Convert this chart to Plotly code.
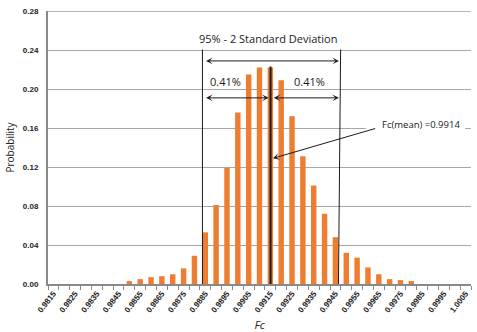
import plotly.graph_objects as go

# Fc bins (0.0005 wide) and the probability of each bin
fc_bins = [
    "0.9815", "0.9820", "0.9825", "0.9830", "0.9835", "0.9840", "0.9845", "0.9850",
    "0.9855", "0.9860", "0.9865", "0.9870", "0.9875", "0.9880", "0.9885", "0.9890",
    "0.9895", "0.9900", "0.9905", "0.9910", "0.9915", "0.9920", "0.9925", "0.9930",
    "0.9935", "0.9940", "0.9945", "0.9950", "0.9955", "0.9960", "0.9965", "0.9970",
    "0.9975", "0.9980", "0.9985", "0.9990", "0.9995", "1.0000", "1.0005",
]
probability = [
    0.0, 0.0, 0.0, 0.0, 0.0, 0.0, 0.0, 0.003,
    0.005, 0.007, 0.008, 0.010, 0.016, 0.029, 0.053, 0.081,
    0.119, 0.176, 0.215, 0.222, 0.222, 0.209, 0.172, 0.131,
    0.101, 0.072, 0.048, 0.032, 0.027, 0.017, 0.010, 0.005,
    0.004, 0.003, 0.0, 0.0, 0.0, 0.0, 0.0,
]
tick_labels = [
    "0.9815", "0.9825", "0.9835", "0.9845", "0.9855", "0.9865", "0.9875",
    "0.9885", "0.9895", "0.9905", "0.9915", "0.9925", "0.9935", "0.9945",
    "0.9955", "0.9965", "0.9975", "0.9985", "0.9995", "1.0005",
]

# Annotation positions (Fc, probability)
sd_low, sd_high = 0.98837, 0.99470
mean_line = 0.99151
span_top = 0.2405
mean_top = 0.2230
arrow_row1 = 0.2288
arrow_row2 = 0.1909

x_vals = [float(v) for v in fc_bins]
tick_vals = [float(v) for v in tick_labels]

BLACK = "#1a1a1a"
AXIS = "#8a8a8a"
GRID = "#a6a6a6"
FONT = "Open Sans"
TICK_FONT = "Liberation Sans"

fig = go.Figure(
    go.Bar(
        x=x_vals,
        y=probability,
        marker=dict(color="#ED7D31", line=dict(width=0)),
        hoverinfo="skip",
    )
)

fig.update_layout(
    width=477,
    height=332,
    margin=dict(l=48, r=6, t=11, b=48),
    paper_bgcolor="white",
    plot_bgcolor="white",
    bargap=0.5,
    showlegend=False,
    font=dict(family=FONT, color=BLACK),
)

fig.update_xaxes(
    range=[0.98125, 1.00075],
    automargin=False,
    tickmode="array",
    tickvals=tick_vals,
    ticktext=tick_labels,
    tickangle=-52,
    ticks="",
    tickfont=dict(size=8, family=TICK_FONT, color="#222", weight="bold"),
    showgrid=False,
    showline=True,
    linecolor=AXIS,
    linewidth=2,
    zeroline=False,
    minor=dict(
        tickmode="linear",
        tick0=0.98125,
        dtick=0.0005,
        ticks="outside",
        ticklen=4,
        tickcolor=AXIS,
        tickwidth=1,
        showgrid=False,
    ),
    title=dict(text="<i>Fc</i>", font=dict(size=11, family=FONT, color="#222"), standoff=8),
)

fig.update_yaxes(
    range=[0, 0.28],
    automargin=False,
    tick0=0,
    dtick=0.04,
    tickformat=".2f",
    tickfont=dict(size=8, family=TICK_FONT, color="#222", weight="bold"),
    ticks="",
    ticklabelstandoff=6,
    showgrid=True,
    gridcolor=GRID,
    gridwidth=1,
    showline=True,
    linecolor=AXIS,
    linewidth=2,
    zeroline=False,
    title=dict(text="Probability", font=dict(size=10, family=FONT, color="#222"), standoff=6),
)

shapes = [
    # top frame line
    dict(type="line", xref="paper", yref="y", x0=0, x1=1, y0=0.28, y1=0.28,
         line=dict(color="#6e6e6e", width=1), layer="above"),
    # 2 standard deviation bounds
    dict(type="line", xref="x", yref="y", x0=sd_low, x1=sd_low, y0=0, y1=span_top,
         line=dict(color=BLACK, width=1)),
    dict(type="line", xref="x", yref="y", x0=sd_high + 0.00004, x1=sd_high - 0.00006, y0=span_top, y1=0,
         line=dict(color=BLACK, width=1)),
    # mean
    dict(type="line", xref="x", yref="y", x0=mean_line, x1=mean_line, y0=0, y1=mean_top,
         line=dict(color=BLACK, width=2)),
    # white box behind the mean label
    dict(type="rect", xref="x", yref="y", x0=0.99590, x1=1.00048, y0=0.1565, y1=0.1720,
         fillcolor="white", line=dict(width=0), layer="above"),
]
fig.update_layout(shapes=shapes)


def double_arrow(x0, x1, y):
    return dict(
        x=x1, y=y, ax=x0, ay=y, xref="x", yref="y", axref="x", ayref="y",
        text="", showarrow=True, arrowside="end+start",
        arrowhead=3, startarrowhead=3, arrowsize=1.1, startarrowsize=1.1,
        arrowwidth=1, arrowcolor=BLACK, standoff=0, startstandoff=0,
    )


annotations = [
    double_arrow(0.98847, 0.99466, arrow_row1),
    double_arrow(0.98847, 0.99142, arrow_row2),
    double_arrow(0.99159, 0.99466, arrow_row2),
    dict(x=0.99137, y=0.2517, xref="x", yref="y", text="95% - 2 Standard Deviation",
         showarrow=False, font=dict(size=11, family=FONT, color=BLACK)),
    dict(x=0.98944, y=0.2082, xref="x", yref="y", text="0.41%",
         showarrow=False, font=dict(size=11, family=FONT, color=BLACK)),
    dict(x=0.99331, y=0.2082, xref="x", yref="y", text="0.41%",
         showarrow=False, font=dict(size=11, family=FONT, color=BLACK)),
    # pointer from the label to the mean line
    dict(x=0.99162, y=0.1289, ax=0.99640, ay=0.1599, xref="x", yref="y", axref="x", ayref="y",
         text="", showarrow=True, arrowhead=3, arrowsize=1.1, arrowwidth=1,
         arrowcolor=BLACK, standoff=0),
    dict(x=0.99843, y=0.1639, xref="x", yref="y", text="Fc(mean) =0.9914",
         showarrow=False, font=dict(size=9.5, family=FONT, color=BLACK)),
]
fig.update_layout(annotations=annotations)

fig.write_html("out.html")
